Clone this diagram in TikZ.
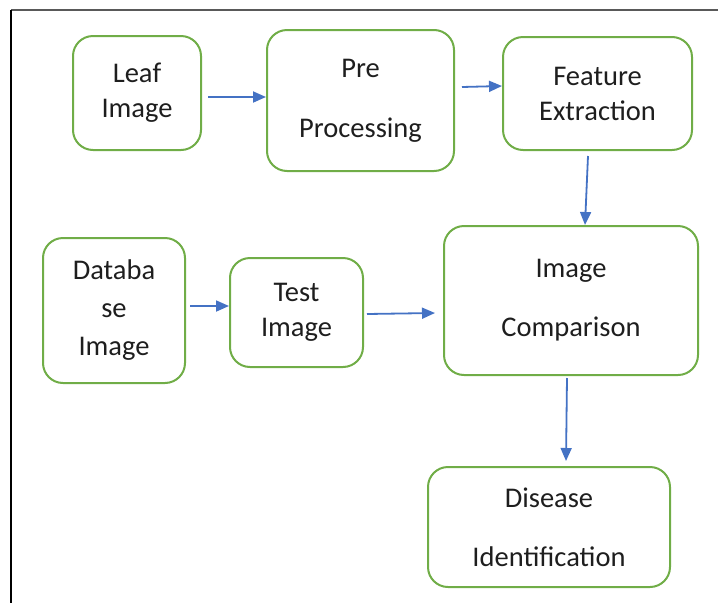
\documentclass[tikz,border=0pt]{standalone}
\usepackage{fontspec}
\setmainfont{Carlito}
\usetikzlibrary{arrows.meta,calc}
\definecolor{boxgreen}{RGB}{112,173,71}
\definecolor{arrblue}{RGB}{68,114,196}
\definecolor{txt}{RGB}{30,30,30}
\tikzset{
  box/.style={draw=boxgreen, line width=2pt, rounded corners=20pt, align=center,
    inner sep=0pt, text=txt, font=\fontsize{28.5}{35}\selectfont},
  arr/.style={draw=arrblue, line width=1.8pt, -{Triangle[length=13pt,width=11pt]}},
}
\begin{document}
\begin{tikzpicture}[x=1pt,y=-1pt]
\useasboundingbox (0,0) rectangle (718,603);
\draw[gray!70!black, line width=1.2pt] (718,10) -- (11,10);
\draw[black, line width=2pt] (11,10) -- (11,603);

\node[box, minimum width=128pt, minimum height=114pt] (leaf) at (137,93) {Leaf\\Image};
\node[box, minimum width=187pt, minimum height=141pt] (pre) at (360.5,100.5) {Pre\\[25pt]Processing};
\node[box, minimum width=189pt, minimum height=113pt] (feat) at (597.5,93.5) {Feature\\Extraction};
\node[box, minimum width=142pt, minimum height=145pt, font=\fontsize{28.5}{38}\selectfont] (db) at (114,310.5) {Databa\\se\\Image};
\node[box, minimum width=133pt, minimum height=109pt] (test) at (296.5,312.5) {Test\\Image};
\node[box, minimum width=254pt, minimum height=149pt] (comp) at (571,300.5) {Image\\[24pt]Comparison};
\node[box, minimum width=242pt, minimum height=120pt] (dis) at (549,527) {Disease\\[24pt]Identification};

\draw[arr] ($(leaf.east)+(6,4)$) -- ($(pre.west)+(0,-3.5)$);
\draw[arr] ($(pre.east)+(7,-13.5)$) -- ($(feat.west)+(0,-7.5)$);
\draw[arr] ($(feat.south)+(-9.5,5)$) -- ($(comp.north)+(14,0)$);
\draw[arr] ($(db.east)+(4,-4.5)$) -- ($(test.west)+(0,-6.5)$);
\draw[arr] ($(test.east)+(3,1.5)$) -- ($(comp.west)+(-8,12.5)$);
\draw[arr] ($(comp.south)+(-4,2)$) -- ($(dis.north)+(17,-5)$);
\end{tikzpicture}
\end{document}
